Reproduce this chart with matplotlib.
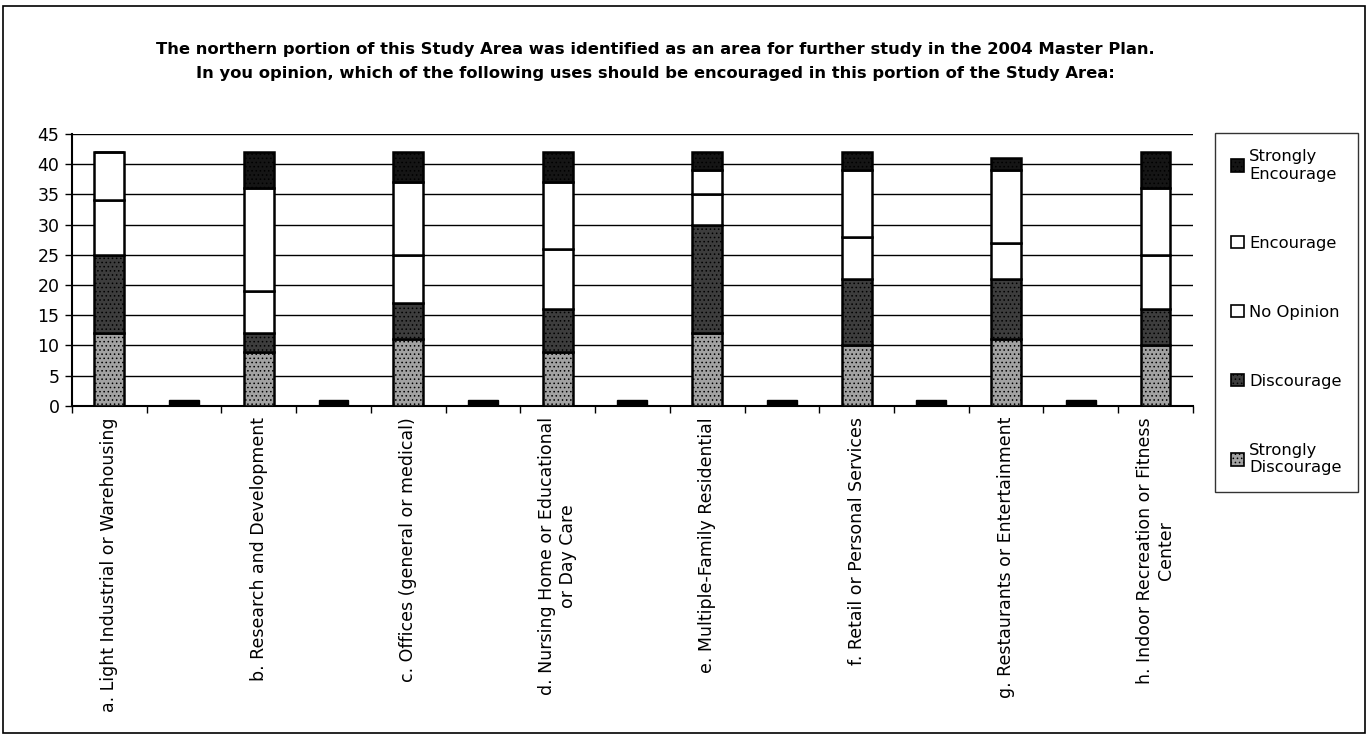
import matplotlib
matplotlib.use('Agg')
import matplotlib.pyplot as plt
import matplotlib.patches as mpatches
from matplotlib.patches import Rectangle
import numpy as np

# Survey responses, one column per use (blank columns are spacer slots)
categories = [
    'a. Light Industrial or Warehousing', '',
    'b. Research and Development', '',
    'c. Offices (general or medical)', '',
    'd. Nursing Home or Educational\nor Day Care', '',
    'e. Multiple-Family Residential', '',
    'f. Retail or Personal Services', '',
    'g. Restaurants or Entertainment', '',
    'h. Indoor Recreation or Fitness\nCenter',
]
strongly_discourage = [12, 0, 9, 0, 11, 0, 9, 0, 12, 0, 10, 0, 11, 0, 10]
discourage          = [13, 0, 3, 0, 6, 0, 7, 0, 18, 0, 11, 0, 10, 0, 6]
no_opinion          = [9, 0, 7, 0, 8, 0, 10, 0, 5, 0, 7, 0, 6, 0, 9]
encourage           = [8, 0, 17, 0, 12, 0, 11, 0, 4, 0, 11, 0, 12, 0, 11]
strongly_encourage  = [0, 0, 6, 0, 5, 0, 5, 0, 3, 0, 3, 0, 2, 0, 6]
spacer              = [0, 1, 0, 1, 0, 1, 0, 1, 0, 1, 0, 1, 0, 1, 0]

series = [
    ('Strongly\nDiscourage', strongly_discourage, '#a2a2a2', '....'),
    ('Discourage', discourage, '#3d3d3d', '....'),
    ('No Opinion', no_opinion, 'white', None),
    ('Encourage', encourage, 'white', None),
    ('Strongly\nEncourage', strongly_encourage, '#151515', '....'),
]

plt.rcParams['font.family'] = 'DejaVu Sans'
plt.rcParams['hatch.color'] = '#777777'
plt.rcParams['hatch.linewidth'] = 0.6

fig = plt.figure(figsize=(13.68, 7.34), dpi=100)
ax = fig.add_axes([0.0526, 0.447, 0.872 - 0.0526, 0.8174 - 0.447])

x = np.arange(len(categories))
width = 0.4
bottom = np.zeros(len(categories))
handles = []
for label, vals, color, hatch in series:
    vals = np.array(vals, dtype=float)
    ax.bar(x, vals, width, bottom=bottom, color=color, edgecolor='black',
           linewidth=1.8, hatch=hatch, zorder=3)
    bottom += vals
    handles.append(mpatches.Patch(facecolor=color, edgecolor='black',
                                  hatch=hatch, linewidth=1.2, label=label))

# solid black blocks in the spacer columns
ax.bar(x, spacer, width, color='black', edgecolor='black', linewidth=1, zorder=3)

ax.set_xlim(-0.5, len(categories) - 0.5)
ax.set_ylim(0, 45)
ax.set_yticks(range(0, 46, 5))
ax.tick_params(axis='y', labelsize=12.5, length=5, width=1, direction='out', pad=4)
ax.yaxis.grid(True, color='black', linewidth=1, zorder=0)

ax.set_xticks(x)
ax.set_xticklabels(categories, rotation=90, fontsize=12.5, va='top', ha='center',
                   multialignment='center')
ax.tick_params(axis='x', length=0, pad=8)
ax.set_xticks(np.arange(-0.5, len(categories), 1), minor=True)
ax.tick_params(axis='x', which='minor', length=5, width=1, direction='out')

for side in ['top', 'right']:
    ax.spines[side].set_visible(False)
for side in ['left', 'bottom']:
    ax.spines[side].set_linewidth(1.5)
    ax.spines[side].set_color('black')

fig.text(0.479, 0.932,
         'The northern portion of this Study Area was identified as an area for further study in the 2004 Master Plan.',
         ha='center', va='center', fontsize=11.8, weight='bold')
fig.text(0.479, 0.900,
         'In you opinion, which of the following uses should be encouraged in this portion of the Study Area:',
         ha='center', va='center', fontsize=11.8, weight='bold')

leg = fig.legend(handles=handles[::-1], loc='upper left',
                 bbox_to_anchor=(0.888, 0.819), fontsize=11.8,
                 handlelength=0.8, handleheight=0.8, handletextpad=0.3,
                 labelspacing=3.3, borderpad=1.0, borderaxespad=0,
                 frameon=True, fancybox=False)
leg.get_frame().set_edgecolor('black')
leg.get_frame().set_linewidth(1)

# outer frame around the whole chart
fig.patches.append(Rectangle((0.002, 0.002), 0.996, 0.99, transform=fig.transFigure,
                             fill=False, edgecolor='black', linewidth=1.2))

fig.savefig('out.png', dpi=100, facecolor='white')
